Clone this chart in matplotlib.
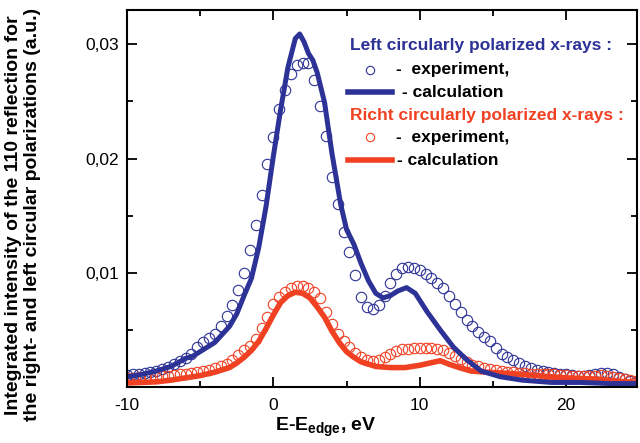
import numpy as np
import matplotlib
matplotlib.use("Agg")
import matplotlib.pyplot as plt

plt.rcParams['font.family'] = ['Liberation Sans', 'DejaVu Sans']
plt.rcParams['mathtext.fontset'] = 'custom'
plt.rcParams['mathtext.rm'] = 'Liberation Sans'
plt.rcParams['mathtext.bf'] = 'Liberation Sans:bold'
plt.rcParams['axes.unicode_minus'] = False

BLUE = '#2d3296'
RED = '#f04123'

# ---- donnees (intensites en unites de 1e-3) ----
# calcul, polarisation gauche
E_calc_left = [-10, -9, -8, -7, -6, -5.5, -5, -4, -3, -2.5, -2, -1.5, -1, -0.5, 0,
               0.5, 1.0, 1.5, 1.8, 2.1, 2.4, 2.7, 3.0, 3.5, 4.0, 4.6, 5.0, 5.5, 6.0,
               6.5, 7.0, 7.5, 8.0, 8.5, 9.1, 9.7, 10.5, 11.4, 12.3, 13.2, 14.2, 15.5,
               17, 19, 21, 23, 24.85]
I_calc_left = [0.9, 1.1, 1.4, 1.8, 2.5, 2.7, 3.1, 3.9, 5.3, 6.4, 8.0, 9.5, 12.2, 15.8, 20.2,
               24.3, 28.0, 30.5, 30.9, 30.2, 29.2, 28.6, 27.5, 24.9, 20.5, 16.0, 13.8, 12.5, 10.8,
               9.3, 8.2, 7.8, 8.0, 8.4, 8.7, 8.2, 6.6, 5.0, 3.5, 2.4, 1.4, 0.9,
               0.6, 0.4, 0.4, 0.3, 0.3]

# calcul, polarisation droite
E_calc_right = [-10, -9, -8, -7, -6, -5, -4, -3, -2.5, -2, -1.5, -1, -0.5, 0, 0.5, 1.0,
                1.5, 2.0, 2.5, 3.0, 3.5, 4.0, 4.5, 5.0, 5.5, 6.0, 7.0, 8.0, 9.0, 10.0,
                10.7, 11.4, 12.0, 12.7, 13.5, 14.5, 16, 18, 20, 22, 23.6, 24.85]
I_calc_right = [0.35, 0.4, 0.45, 0.6, 0.8, 1.0, 1.3, 1.7, 2.1, 2.6, 3.2, 4.0, 5.1, 6.3, 7.4, 8.0,
                8.3, 8.2, 7.8, 7.0, 6.1, 4.9, 3.9, 3.1, 2.6, 2.2, 1.8, 1.7, 1.7, 1.9,
                2.1, 2.3, 2.0, 1.7, 1.4, 1.3, 1.2, 1.0, 0.8, 0.7, 0.5, 0.4]

# experience (meme grille en energie pour les deux polarisations)
E_exp = [-10.0, -9.6, -9.2, -8.8, -8.4, -8.0, -7.6, -7.2, -6.8, -6.4, -6.0, -5.6, -5.2, -4.8,
         -4.4, -4.0, -3.6, -3.2, -2.8, -2.4, -2.0, -1.6, -1.2, -0.8, -0.4, 0.0, 0.4, 0.8,
         1.2, 1.6, 2.0, 2.4, 2.8, 3.2, 3.6, 4.0, 4.4, 4.8, 5.2, 5.6, 6.0, 6.4, 6.8, 7.2,
         7.6, 8.0, 8.4, 8.8, 9.2, 9.6, 10.0, 10.4, 10.8, 11.2, 11.6, 12.0, 12.4, 12.8,
         13.2, 13.6, 14.0, 14.4, 14.8, 15.2, 15.6, 16.0, 16.4, 16.8, 17.2, 17.6, 18.0,
         18.4, 18.8, 19.2, 19.6, 20.0, 20.4, 20.8, 21.2, 21.6, 22.0, 22.4, 22.8, 23.2,
         23.6, 24.0, 24.4, 24.8]
I_exp_left = [1.05, 1.1, 1.15, 1.2, 1.3, 1.4, 1.55, 1.75, 2.0, 2.25, 2.55, 2.9, 3.5, 3.9,
              4.25, 4.65, 5.3, 6.2, 7.2, 8.5, 10.0, 12.0, 14.2, 16.8, 19.5, 21.9, 24.3, 26.0,
              27.4, 28.2, 28.4, 28.4, 26.9, 24.6, 22.0, 18.4, 16.0, 13.6, 11.8, 9.8, 7.9, 7.0,
              6.8, 7.2, 8.0, 9.1, 9.9, 10.4, 10.5, 10.4, 10.2, 9.9, 9.5, 9.1, 8.7, 8.0, 7.3,
              6.6, 5.9, 5.3, 4.8, 4.4, 4.0, 3.4, 2.9, 2.6, 2.35, 2.1, 1.85, 1.65, 1.5,
              1.4, 1.3, 1.2, 1.15, 1.1, 1.05, 1.0, 1.0, 1.05, 1.15, 1.25, 1.2, 1.1,
              0.9, 0.7, 0.55, 0.45]
I_exp_right = [0.8, 0.8, 0.85, 0.85, 0.9, 0.9, 0.95, 1.0, 1.05, 1.1, 1.15, 1.2, 1.3, 1.4,
               1.5, 1.65, 1.8, 2.0, 2.4, 2.8, 3.2, 3.6, 4.2, 5.2, 6.1, 7.3, 7.9, 8.3,
               8.7, 8.8, 8.8, 8.7, 8.3, 7.8, 6.6, 5.5, 4.6, 4.0, 3.5, 3.0, 2.6, 2.35,
               2.3, 2.4, 2.6, 2.9, 3.15, 3.3, 3.35, 3.4, 3.4, 3.4, 3.4, 3.35, 3.2, 2.95, 2.7,
               2.45, 2.2, 1.95, 1.8, 1.65, 1.55, 1.45, 1.4, 1.35, 1.3, 1.25, 1.2, 1.15, 1.15,
               1.1, 1.1, 1.1, 1.05, 1.05, 1.0, 1.0, 1.0, 1.0, 1.0, 1.05, 1.0, 0.9,
               0.8, 0.7, 0.6, 0.5]

y_ticks = [0.01, 0.02, 0.03]
y_ticklabels = ['0,01', '0,02', '0,03']
x_ticks = [-10, 0, 10, 20]

# passage en unites absolues
I_calc_left = np.array(I_calc_left) * 1e-3
I_calc_right = np.array(I_calc_right) * 1e-3
I_exp_left = np.array(I_exp_left) * 1e-3
I_exp_right = np.array(I_exp_right) * 1e-3

fig = plt.figure(figsize=(6.4, 4.43), dpi=100)
ax = fig.add_axes([127/640, 1-387/443, 510/640, 377/443])

# points experimentaux
ax.plot(E_exp, I_exp_left, 'o', mfc='none', mec=BLUE, ms=7.5, mew=0.8)
ax.plot(E_exp, I_exp_right, 'o', mfc='none', mec=RED, ms=7.5, mew=0.8)
# courbes calculees
ax.plot(E_calc_right, I_calc_right, '-', color=RED, lw=4)
ax.plot(E_calc_left, I_calc_left, '-', color=BLUE, lw=3.6)

ax.set_xlim(-10, 24.85)
ax.set_ylim(0, 0.033)
ax.set_xticks(x_ticks)
ax.set_xticks([-5, 5, 15], minor=True)
ax.set_yticks(y_ticks)
ax.set_yticklabels(y_ticklabels)
ax.set_yticks([0.005, 0.015, 0.025], minor=True)
ax.tick_params(which='both', direction='in', top=True, right=True, width=1.3, labelsize=12.5)
ax.tick_params(which='major', length=7)
ax.tick_params(which='minor', length=4)
ax.tick_params(axis='y', pad=6)
ax.tick_params(axis='x', pad=8)
for s in ax.spines.values():
    s.set_linewidth(1.5)

# legende faite a la main
fs = 12.5
ax.text(0.437, 0.907, 'Left circularly polarized x-rays :', color=BLUE, fontsize=fs,
        fontweight='bold', va='center', transform=ax.transAxes)
ax.plot([0.476], [0.841], 'o', mfc='none', mec=BLUE, ms=6, mew=0.8, transform=ax.transAxes)
ax.text(0.527, 0.841, '-  experiment,', fontsize=fs, fontweight='bold', va='center',
        transform=ax.transAxes)
ax.plot([0.433, 0.520], [0.782, 0.782], color=BLUE, lw=4, transform=ax.transAxes)
ax.text(0.539, 0.782, '- calculation', fontsize=fs, fontweight='bold', va='center',
        transform=ax.transAxes)
ax.text(0.437, 0.721, 'Richt circularly polarized x-rays :', color=RED, fontsize=fs,
        fontweight='bold', va='center', transform=ax.transAxes)
ax.plot([0.476], [0.663], 'o', mfc='none', mec=RED, ms=6, mew=0.8, transform=ax.transAxes)
ax.text(0.527, 0.663, '-  experiment,', fontsize=fs, fontweight='bold', va='center',
        transform=ax.transAxes)
ax.plot([0.433, 0.520], [0.602, 0.602], color=RED, lw=4, transform=ax.transAxes)
ax.text(0.529, 0.602, '- calculation', fontsize=fs, fontweight='bold', va='center',
        transform=ax.transAxes)

# titres des axes
fig.text(275/640, 1-431/443, r'E-E$_{\mathbf{edge}}$, eV', fontsize=14, fontweight='bold',
         ha='left', va='baseline')
fig.text(0.036, 0.515, 'Integrated intensity of the 110 reflection for\n'
         'the right- and left circular polarizations (a.u.)', fontsize=14, fontweight='bold',
         rotation=90, ha='center', va='center', multialignment='center', linespacing=1.1)

fig.savefig('out.png', dpi=100)
